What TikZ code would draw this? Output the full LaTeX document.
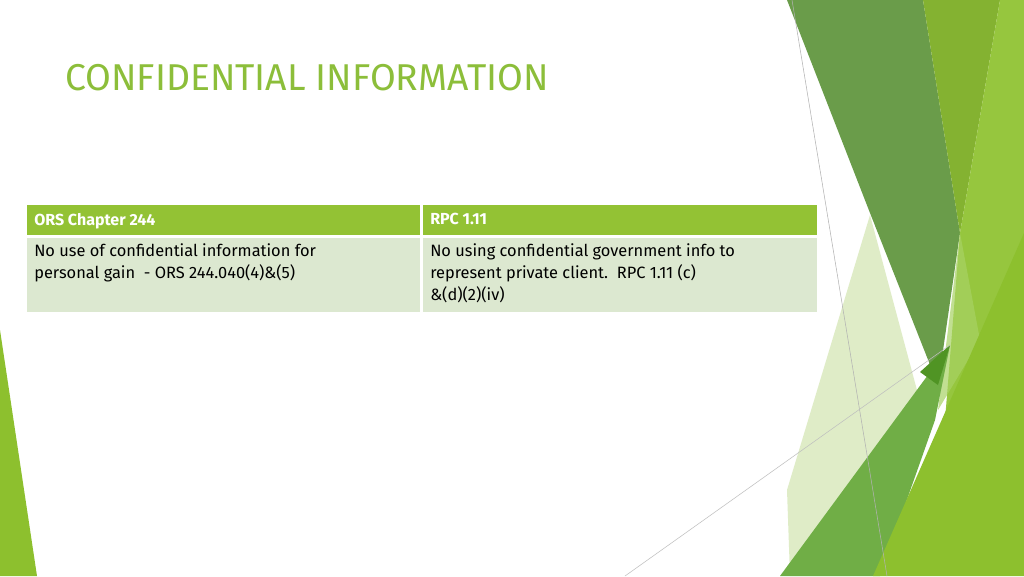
\documentclass[tikz,border=0pt]{standalone}
\usepackage{fontspec}
\setmainfont{Fira Sans}
\begin{document}
\begin{tikzpicture}[x=0.75pt,y=-0.75pt,
  hdr/.style={text=white,anchor=north west,inner sep=0pt,font=\fontsize{12}{15}\selectfont\bfseries},
  cell/.style={anchor=north west,inner sep=0pt,align=left,font=\fontsize{12.3}{16.8}\selectfont}]
\definecolor{hdrgreen}{HTML}{93C234}
\definecolor{bodygreen}{HTML}{DCE8D0}
\definecolor{titlegreen}{HTML}{8CBE3A}
\useasboundingbox (0,0) rectangle (1024,576);
\fill[white] (0,0) rectangle (1024,576);
% decorations
\fill[color={rgb,255:red,216;green,232;blue,186},opacity=0.8] (787,490) -- (870,215) -- (925,420) -- (850,576) -- (790,576) -- cycle;
\fill[color={rgb,255:red,106;green,156;blue,74}] (787,0) -- (923,0) -- (960,233) -- (938,385) -- (870,213) -- cycle;
\fill[color={rgb,255:red,132;green,178;blue,49}] (923,0) -- (1000,0) -- (960,233) -- cycle;
\fill[color={rgb,255:red,150;green,198;blue,62}] (1000,0) -- (1024,0) -- (1024,576) -- (945,420) -- (960,233) -- cycle;
\fill[color={rgb,255:red,168;green,210;blue,100},opacity=0.7] (960,233) -- (980,340) -- (938,410) -- cycle;
\fill[color={rgb,255:red,112;green,174;blue,70}] (780,576) -- (950,345) -- (935,420) -- (880,576) -- cycle;
\fill[color={rgb,255:red,80;green,148;blue,36}] (920,372) -- (950,345) -- (938,385) -- cycle;
\fill[color={rgb,255:red,141;green,192;blue,46}] (873,576) -- (1024,233) -- (1024,576) -- cycle;
\draw[gray!60,line width=0.4pt] (792,0) -- (887,576);
\draw[gray!50,line width=0.4pt] (625,576) -- (950,345);
\fill[color={rgb,255:red,141;green,192;blue,46}] (0,330) -- (37,576) -- (0,576) -- cycle;
% title
\node[anchor=west,inner sep=0pt,text=titlegreen,font=\fontsize{28}{32}\selectfont] (title) at (65,78) {CONFIDENTIAL INFORMATION};
% table
\fill[hdrgreen] (27,205) rectangle (420,235);
\fill[hdrgreen] (423,205) rectangle (817,235);
\fill[bodygreen] (27,238) rectangle (420,312);
\fill[bodygreen] (423,238) rectangle (817,312);
\node[hdr] (h1) at (34,213) {ORS Chapter 244};
\node[hdr] (h2) at (430,213) {RPC 1.11};
\node[cell] (c1) at (34,243) {No use of confidential information for\\personal gain\ \ - ORS 244.040(4)\&(5)};
\node[cell] (c2) at (430,243) {No using confidential government info to\\represent private client.\ \ RPC 1.11 (c)\\\&(d)(2)(iv)};
\end{tikzpicture}
\end{document}
